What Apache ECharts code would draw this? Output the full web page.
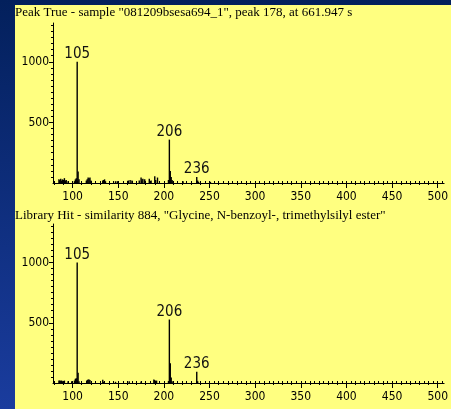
<!DOCTYPE html>
<html>
<head>
<meta charset="utf-8">
<script src="https://cdn.jsdelivr.net/npm/echarts@6/dist/echarts.min.js"></script>
<style>
html,body{margin:0;padding:0;width:451px;height:409px;overflow:hidden;}
body{background:linear-gradient(to bottom,#03205c,#1a3c9e);}
#panel{position:absolute;left:15px;top:5px;right:0;bottom:0;background:#ffff80;}
#chart{position:absolute;left:0;top:0;width:451px;height:409px;}
</style>
</head>
<body>
<div id="panel"></div>
<div id="chart"></div>
<script>
// Titles
const titleTop = 'Peak True - sample "081209bsesa694_1", peak 178, at 661.947 s';
const titleBottom = 'Library Hit - similarity 884, "Glycine, N-benzoyl-, trimethylsilyl ester"';

// Peak True spectrum: m/z and intensity
const trueMz  = [85,86,87,88,89,90,91,92,93,95,102,103,104,105,106,107,115,116,117,118,119,120,133,134,135,136,147,149,161,163,165,173,175,176,177,179,184,186,190,191,193,205,206,207,208,209,210,221,236,237,238,251];
const trueInt = [30,25,35,20,30,25,40,20,25,15,15,30,40,1000,95,30,20,30,45,40,45,20,20,25,30,15,15,15,20,25,20,20,45,30,35,30,35,20,55,25,45,25,358,100,50,25,15,15,50,20,10,10];

// Library Hit spectrum
const libMz  = [85,86,87,88,89,91,95,99,102,103,104,105,106,107,116,117,118,119,133,134,147,162,175,189,190,192,205,206,207,208,209,236,237];
const libInt = [20,20,18,20,15,20,15,15,20,35,40,1000,85,15,25,30,30,25,28,10,10,15,12,30,25,20,15,527,165,45,15,93,15];

// Labelled peaks
const labelledMz = [105,206,236];

// Axis ticks
const xMajor = [100,150,200,250,300,350,400,450,500];
const xMid = []; for (let v = 80; v <= 500; v += 10) xMid.push(v);
const xMinor = []; for (let v = 80; v <= 505; v += 5) xMinor.push(v);
const yMajor = [500,1000];
const yMinor = []; for (let v = 50; v <= 1300; v += 50) yMinor.push(v);

const X_MIN = 78.5, X_MAX = 507, Y_MAX = 1320;
const tickFont = 'DejaVu Sans Condensed';

function seriesData(mz, inten) {
  return mz.map((m, i) => {
    const item = { value: [m, inten[i]] };
    if (labelledMz.includes(m)) item.label = { show: true, formatter: String(m) };
    return item;
  });
}

function xAxes(gridIndex) {
  return [
    { type:'value', gridIndex, position:'bottom', min:X_MIN, max:X_MAX,
      axisLine:{show:true, onZero:false, lineStyle:{color:'#000', width:1}},
      axisTick:{show:true, customValues:xMajor, length:5, lineStyle:{color:'#000'}},
      axisLabel:{show:true, customValues:xMajor, color:'#000', fontFamily:tickFont, fontSize:12, margin:8, formatter:v => String(v)},
      splitLine:{show:false} },
    { type:'value', gridIndex, position:'bottom', min:X_MIN, max:X_MAX,
      axisLine:{show:false, onZero:false},
      axisTick:{show:true, customValues:xMid, length:2, lineStyle:{color:'#000'}},
      axisLabel:{show:false}, splitLine:{show:false} },
    { type:'value', gridIndex, position:'bottom', min:X_MIN, max:X_MAX,
      axisLine:{show:false, onZero:false},
      axisTick:{show:true, inside:true, customValues:xMinor, length:2, lineStyle:{color:'#000'}},
      axisLabel:{show:false}, splitLine:{show:false} }
  ];
}
function yAxes(gridIndex) {
  return [
    { type:'value', gridIndex, position:'left', min:0, max:Y_MAX,
      axisLine:{show:true, onZero:false, lineStyle:{color:'#000', width:1}},
      axisTick:{show:true, customValues:yMajor, length:4, lineStyle:{color:'#000'}},
      axisLabel:{show:true, customValues:yMajor, color:'#000', fontFamily:tickFont, fontSize:12, margin:4, formatter:v => String(v)},
      splitLine:{show:false} },
    { type:'value', gridIndex, position:'left', min:0, max:Y_MAX,
      axisLine:{show:false, onZero:false},
      axisTick:{show:true, customValues:yMinor, length:2, lineStyle:{color:'#000'}},
      axisLabel:{show:false}, splitLine:{show:false} }
  ];
}

const labelStyle = { show:false, position:'top', distance:0, color:'#111', fontFamily:tickFont, fontSize:15 };

const chart = echarts.init(document.getElementById('chart'), null, {renderer:'canvas'});
chart.setOption({
  animation:false,
  backgroundColor:'transparent',
  title:[
    { text:titleTop, left:15, top:6, padding:0, textStyle:{fontFamily:'Liberation Serif', fontSize:13, fontWeight:'normal', color:'#000'} },
    { text:titleBottom, left:15, top:209, padding:0, textStyle:{fontFamily:'Liberation Serif', fontSize:13, fontWeight:'normal', color:'#000'} }
  ],
  grid:[
    { left:53, top:23, width:394, height:160 },
    { left:53, top:224, width:394, height:159 }
  ],
  xAxis:[...xAxes(0), ...xAxes(1)],
  yAxis:[...yAxes(0), ...yAxes(1)],
  series:[
    { type:'bar', xAxisIndex:0, yAxisIndex:0, barWidth:1.4, itemStyle:{color:'#000'},
      label:labelStyle, data:seriesData(trueMz, trueInt) },
    { type:'bar', xAxisIndex:3, yAxisIndex:2, barWidth:1.4, itemStyle:{color:'#000'},
      label:labelStyle, data:seriesData(libMz, libInt) }
  ]
});
</script>
</body>
</html>
